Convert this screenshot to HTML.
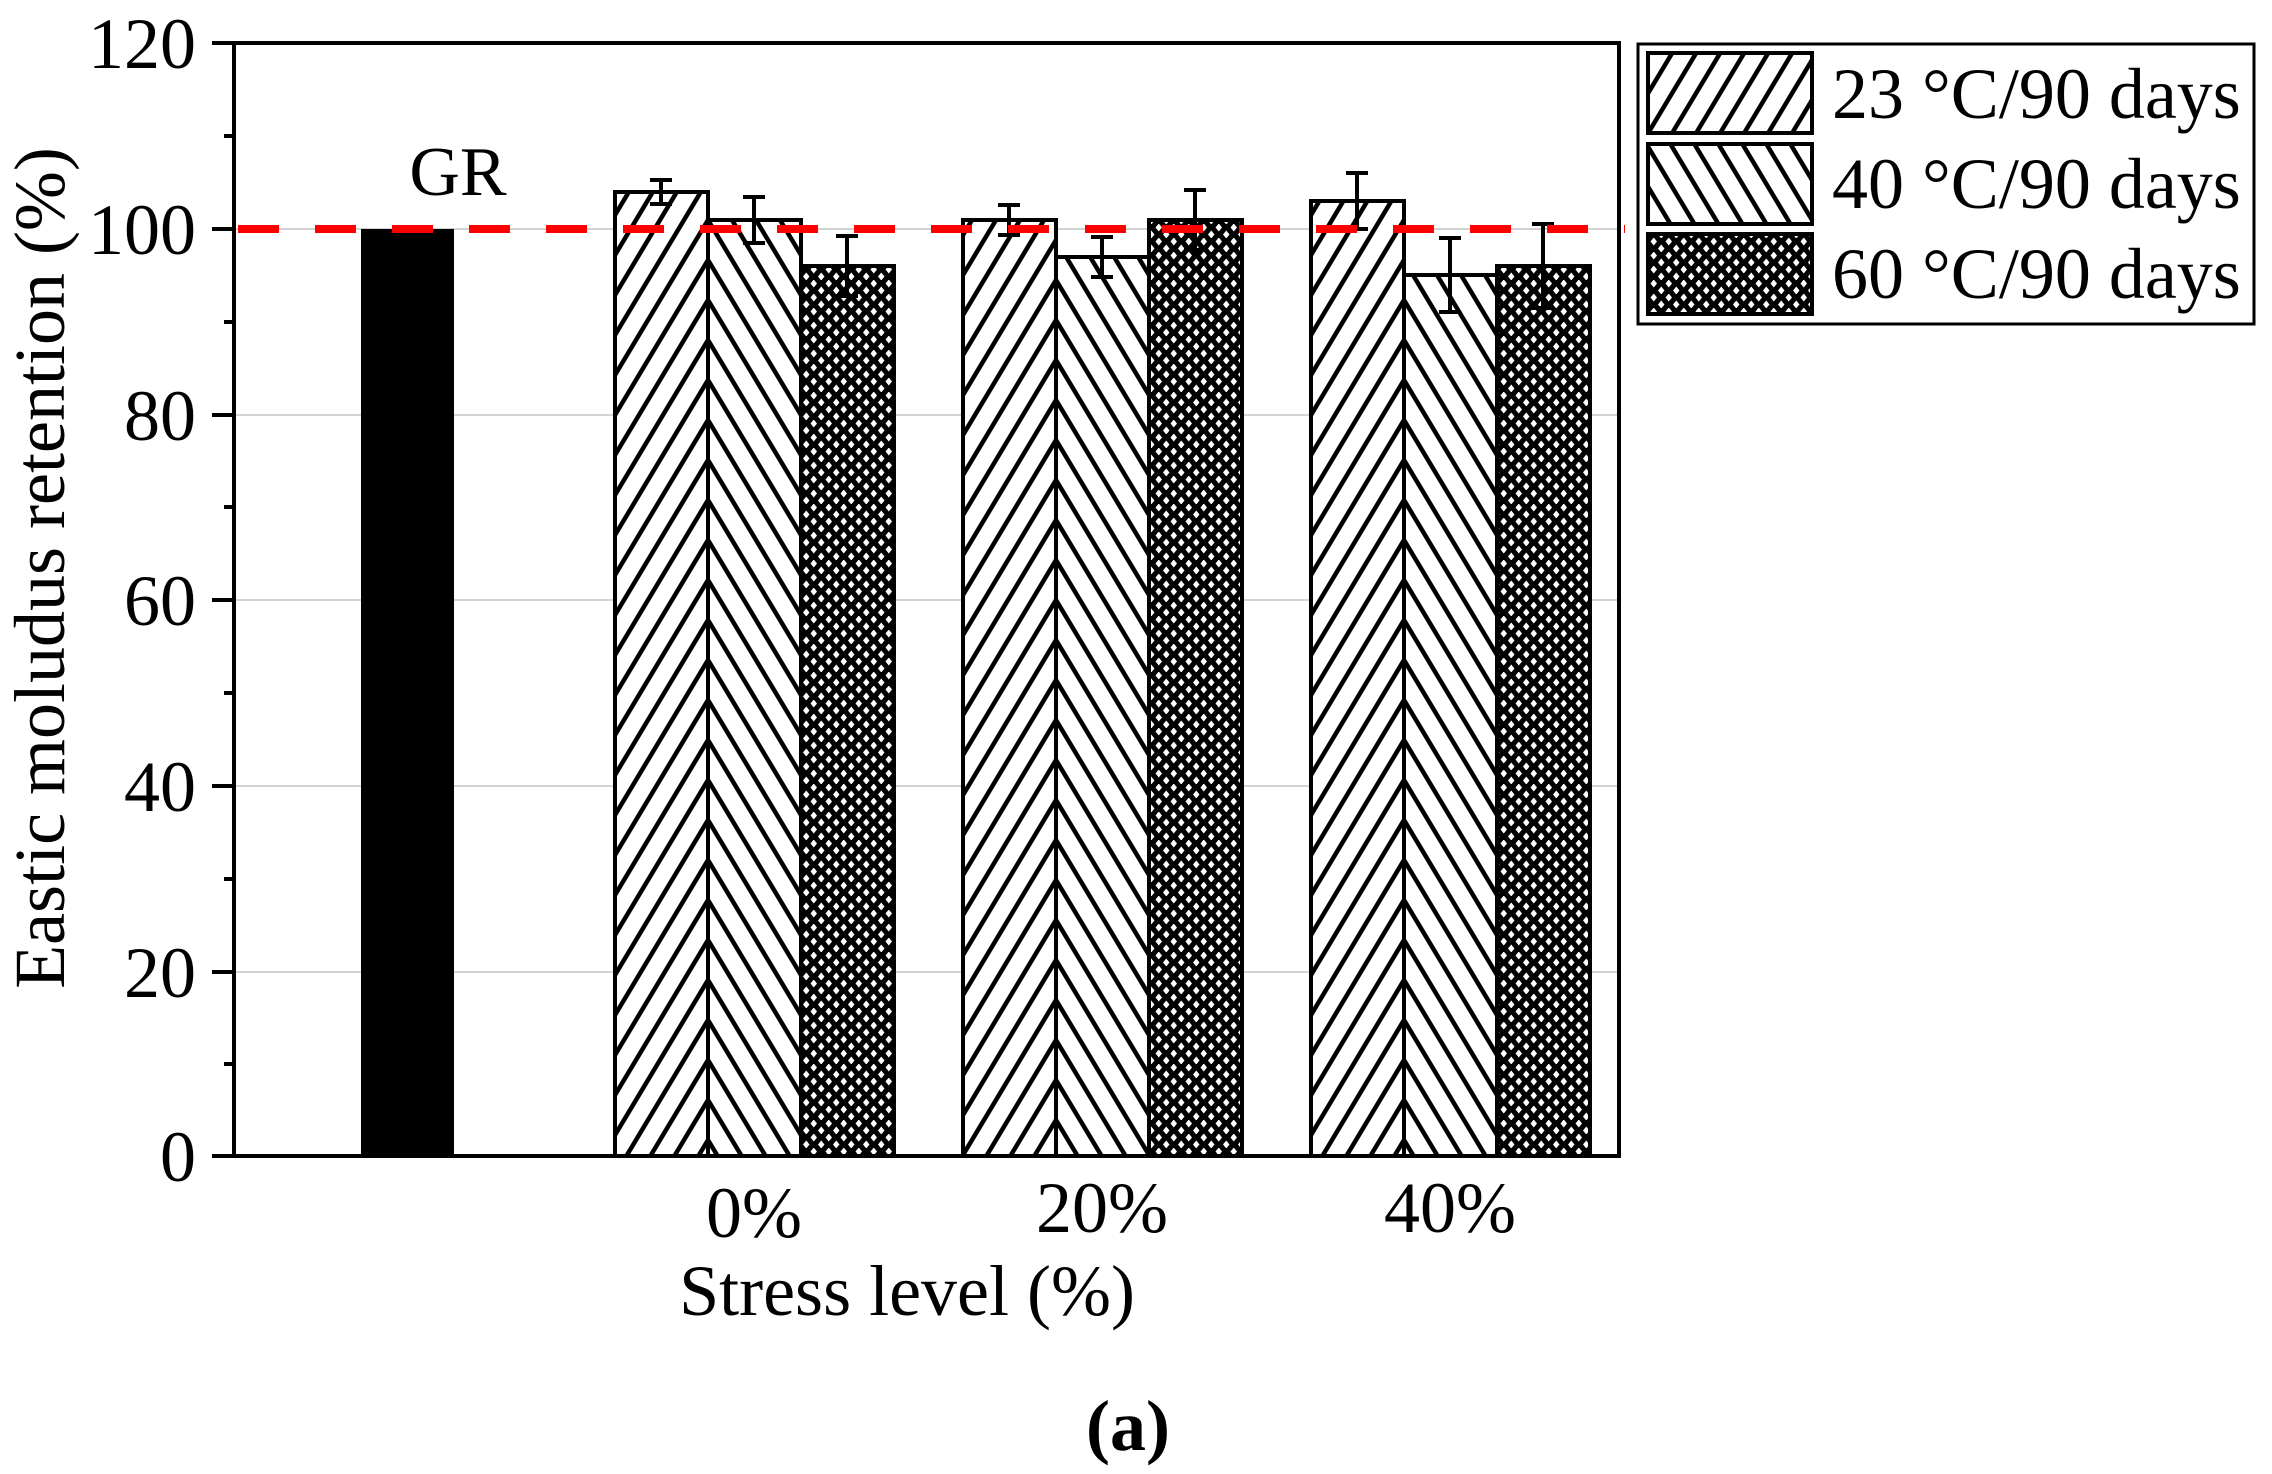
<!DOCTYPE html>
<html><head><meta charset="utf-8"><style>html,body{margin:0;padding:0;background:#fff}</style></head><body>
<svg width="2272" height="1469" viewBox="0 0 2272 1469" xmlns="http://www.w3.org/2000/svg" font-family="Liberation Serif, serif">
<defs>
<pattern id="p23" patternUnits="userSpaceOnUse" width="24" height="40">
<rect width="24" height="40" fill="#fff"/>
<line x1="-12" y1="60" x2="36" y2="-20" stroke="#000" stroke-width="4.5"/>
<line x1="-36" y1="60" x2="12" y2="-20" stroke="#000" stroke-width="4.5"/>
<line x1="12" y1="60" x2="60" y2="-20" stroke="#000" stroke-width="4.5"/>
</pattern>
<pattern id="p40" patternUnits="userSpaceOnUse" width="24" height="40">
<rect width="24" height="40" fill="#fff"/>
<line x1="-12" y1="-20" x2="36" y2="60" stroke="#000" stroke-width="4.5"/>
<line x1="-36" y1="-20" x2="12" y2="60" stroke="#000" stroke-width="4.5"/>
<line x1="12" y1="-20" x2="60" y2="60" stroke="#000" stroke-width="4.5"/>
</pattern>
<pattern id="p60" patternUnits="userSpaceOnUse" width="15" height="14">
<rect width="15" height="14" fill="#000"/>
<polygon points="3.75,-0.5 7,3.5 3.75,7.5 0.5,3.5" fill="#fff"/>
<polygon points="11.25,6.5 14.5,10.5 11.25,14.5 8,10.5" fill="#fff"/>
</pattern>
</defs>
<g stroke="#d3d3d3" stroke-width="2">
<line x1="236" y1="972" x2="1617" y2="972"/><line x1="236" y1="786" x2="1617" y2="786"/>
<line x1="236" y1="600" x2="1617" y2="600"/><line x1="236" y1="415" x2="1617" y2="415"/>
<line x1="236" y1="229" x2="1617" y2="229"/>
</g>
<rect x="361" y="229" width="93" height="927" fill="#000"/>
<text x="458" y="195" font-size="70" text-anchor="middle">GR</text>
<g stroke="#000" stroke-width="4">
<rect x="615" y="192" width="93" height="964" fill="url(#p23)"/>
<rect x="708" y="220" width="93" height="936" fill="url(#p40)"/>
<rect x="801" y="266" width="93" height="890" fill="url(#p60)"/>
<rect x="963" y="220" width="93" height="936" fill="url(#p23)"/>
<rect x="1056" y="257" width="93" height="899" fill="url(#p40)"/>
<rect x="1149" y="220" width="93" height="936" fill="url(#p60)"/>
<rect x="1311" y="201" width="93" height="955" fill="url(#p23)"/>
<rect x="1404" y="275" width="93" height="881" fill="url(#p40)"/>
<rect x="1497" y="266" width="93" height="890" fill="url(#p60)"/>
</g>
<g stroke="#000" stroke-width="4" fill="none">
<path d="M661 180V204M650 180H672M650 204H672"/>
<path d="M754 197V243M743 197H765M743 243H765"/>
<path d="M847 236V296M836 236H858M836 296H858"/>
<path d="M1009 205V235M998 205H1020M998 235H1020"/>
<path d="M1102 237V277M1091 237H1113M1091 277H1113"/>
<path d="M1195 190V250M1184 190H1206M1184 250H1206"/>
<path d="M1357 173V229M1346 173H1368M1346 229H1368"/>
<path d="M1450 238V312M1439 238H1461M1439 312H1461"/>
<path d="M1543 224V308M1532 224H1554M1532 308H1554"/>
</g>
<line x1="238" y1="229" x2="1625" y2="229" stroke="#ff0000" stroke-width="8" stroke-dasharray="41 36"/>
<g stroke="#000" stroke-width="4" fill="none">
<rect x="234" y="43" width="1385" height="1113"/>
<path d="M212 43H234M212 229H234M212 415H234M212 600H234M212 786H234M212 972H234M212 1156H234"/>
<path d="M224 136H234M224 322H234M224 507H234M224 693H234M224 879H234M224 1064H234"/>
</g>
<g font-size="72" text-anchor="end">
<text x="196" y="68">120</text><text x="196" y="254">100</text><text x="196" y="440">80</text>
<text x="196" y="625">60</text><text x="196" y="811">40</text><text x="196" y="997">20</text>
<text x="196" y="1181">0</text>
</g>
<g font-size="72" text-anchor="middle">
<text x="754" y="1237">0%</text><text x="1102" y="1232">20%</text><text x="1450" y="1232">40%</text>
<text x="907" y="1315">Stress level (%)</text>
<text x="1128" y="1450" font-weight="bold">(a)</text>
<text transform="translate(64,568) rotate(-90)">Eastic moludus retention (%)</text>
</g>
<rect x="1638" y="44" width="616" height="280" fill="#fff" stroke="#000" stroke-width="3"/>
<g stroke="#000" stroke-width="4">
<rect x="1648" y="53" width="164" height="80" fill="url(#p23)"/>
<rect x="1648" y="144" width="164" height="80" fill="url(#p40)"/>
<rect x="1648" y="234" width="164" height="80" fill="url(#p60)"/>
</g>
<g font-size="72">
<text x="1832" y="118">23 °C/90 days</text>
<text x="1832" y="208">40 °C/90 days</text>
<text x="1832" y="298">60 °C/90 days</text>
</g>
</svg>
</body></html>
